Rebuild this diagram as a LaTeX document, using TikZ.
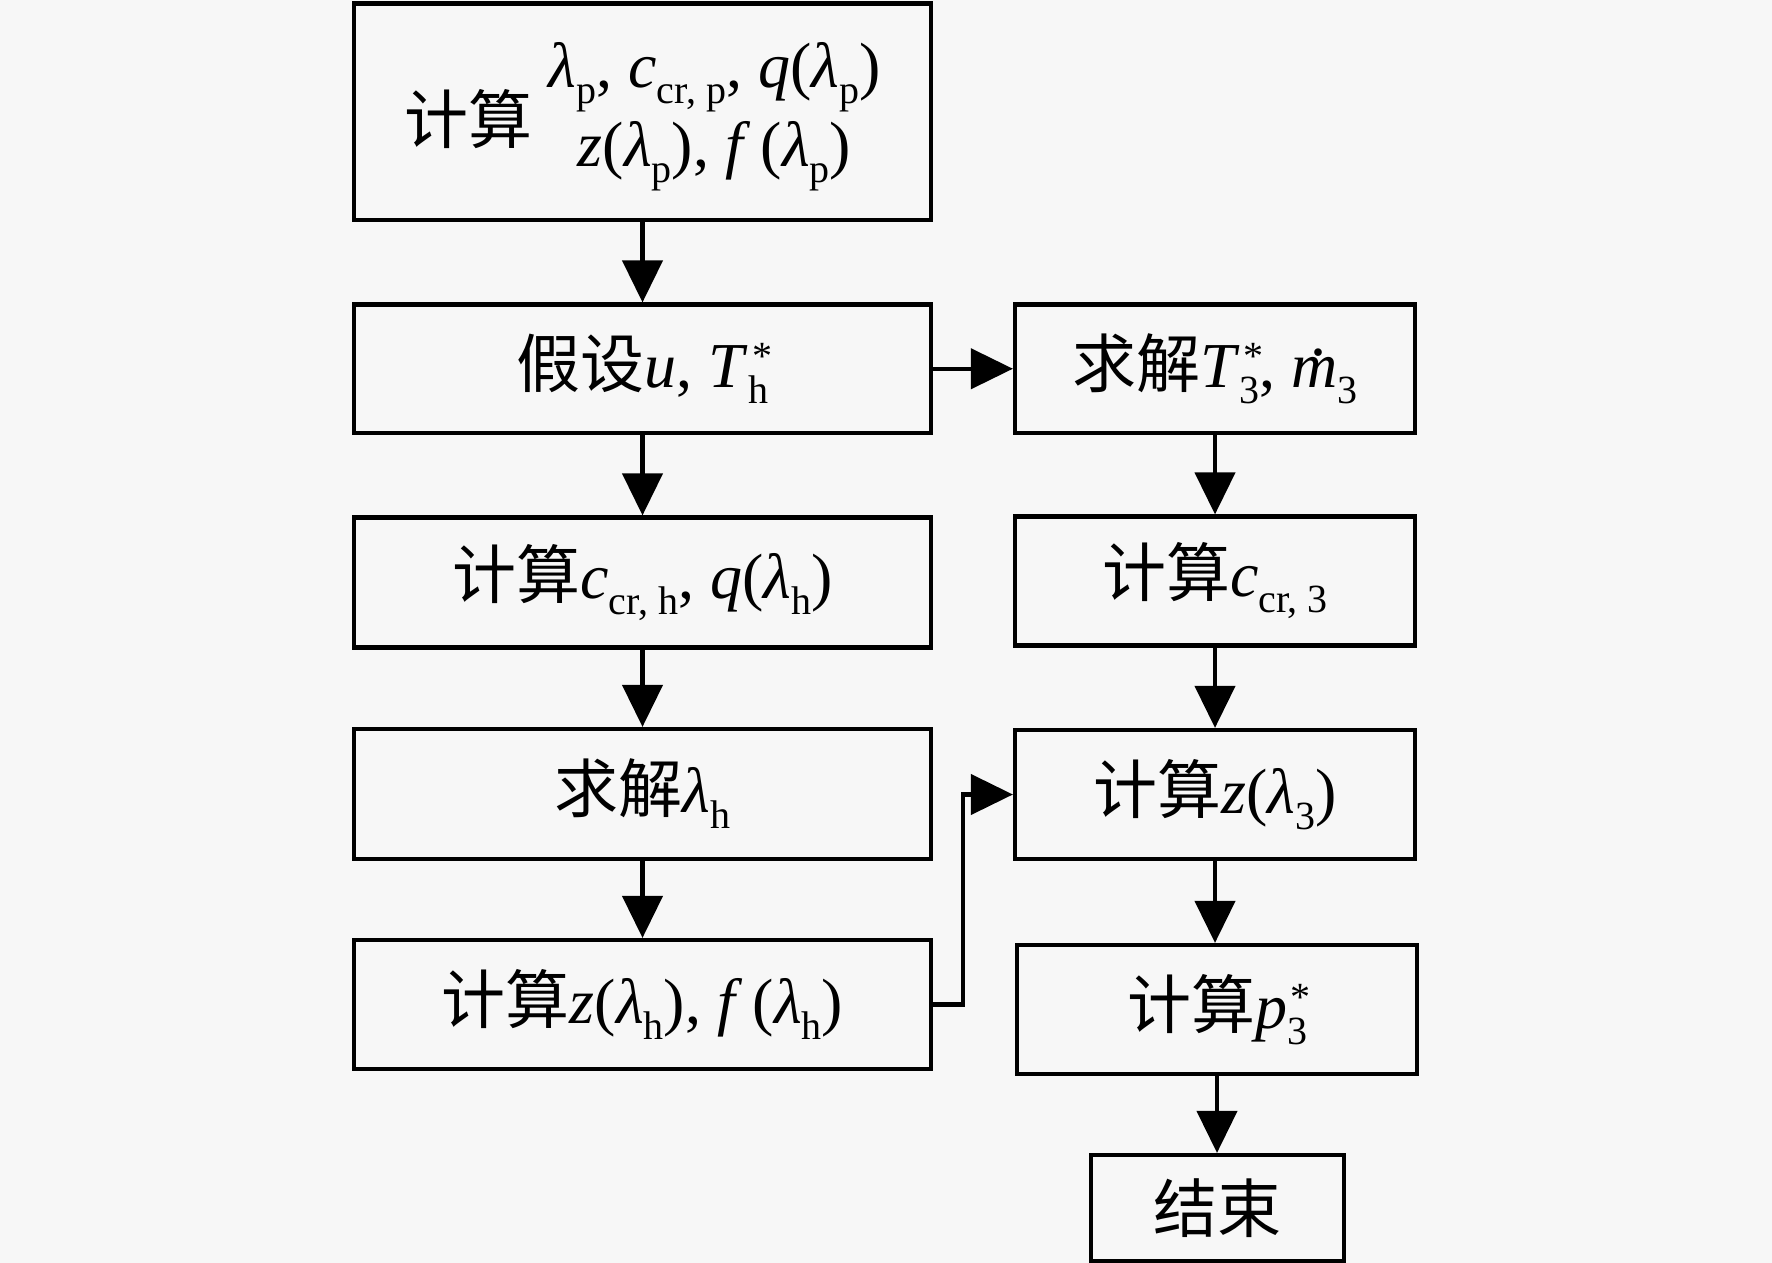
\documentclass[tikz,border=0pt]{standalone}
\usepackage{fontspec}
\setmainfont{Liberation Serif}
\newfontfamily\cjk{Noto Sans CJK SC}
\usetikzlibrary{arrows.meta,calc}
\definecolor{bgc}{HTML}{F7F7F7}
\newcommand\ssz{\fontsize{20pt}{20pt}\selectfont\upshape}
\newcommand\sbx[1]{\raisebox{-0.25em}{\ssz #1}}
\newcommand\sbsp[2]{\rlap{\kern0.06em\raisebox{0.28em}{\ssz #2}}\raisebox{-0.25em}{\ssz #1}}
\newcommand\vi[1]{\textit{#1}}
\newcommand\lam{\textit{λ}}
\newcommand\mdot{\setbox0\hbox{\itshape m}\hbox to \wd0{\hss\raisebox{0.5em}{\kern0.12em .}\hss}\kern-\wd0\box0}
\begin{document}
\begin{tikzpicture}[x=0.5pt,y=-0.5pt,
  box/.style={draw,line width=2.1pt,rectangle,inner sep=0pt,font=\fontsize{32pt}{39pt}\selectfont},
  arr/.style={line width=2.1pt,-{Triangle[length=21pt,width=20pt]}}]
\fill[bgc] (0,0) rectangle (1772,1263);
\useasboundingbox (0,0) rectangle (1772,1263);
% left column
\node[box,minimum width=288.5pt,minimum height=108.25pt] (b1) at (642.5,111.75)
  {\raisebox{-0.3em}{\cjk 计算}\hspace{8pt}\begin{tabular}{@{}c@{}}\lam\sbx{p}, \vi{c}\sbx{cr, p}, \vi{q}(\lam\sbx{p})\\ \vi{z}(\lam\sbx{p}), \vi{f}\,(\lam\sbx{p})\end{tabular}};
\node[box,minimum width=288.5pt,minimum height=64.25pt] (b2) at (642.5,368.75)
  {{\cjk 假设}\vi{u}, \vi{T}\sbsp{h}{*}};
\node[box,minimum width=288.5pt,minimum height=65pt] (b3) at (642.5,582.5)
  {{\cjk 计算}\vi{c}\sbx{cr, h}, \vi{q}(\lam\sbx{h})};
\node[box,minimum width=288.5pt,minimum height=65pt] (b4) at (642.5,794)
  {{\cjk 求解}\lam\sbx{h}};
\node[box,minimum width=288.5pt,minimum height=64.5pt] (b5) at (642.5,1004.5)
  {{\cjk 计算}\vi{z}(\lam\sbx{h}), \vi{f}\,(\lam\sbx{h})};
% right column
\node[box,minimum width=200pt,minimum height=64.25pt] (r1) at (1215,368.75)
  {{\cjk 求解}\vi{T}\sbsp{3}{*}, \mdot\sbx{3}};
\node[box,minimum width=200pt,minimum height=64.5pt] (r2) at (1215,581)
  {{\cjk 计算}\vi{c}\sbx{cr, 3}};
\node[box,minimum width=200pt,minimum height=64.5pt] (r3) at (1215,794.5)
  {{\cjk 计算}\vi{z}(\lam\sbx{3})};
\node[box,minimum width=200pt,minimum height=64.5pt] (r4) at (1217,1009.5)
  {{\cjk 计算}\vi{p}\sbsp{3}{*}};
\node[box,minimum width=126.5pt,minimum height=53pt] (e) at (1217.5,1208)
  {{\cjk 结束}};
\coordinate (elb) at (963,0);
% connectors
\draw[arr] (b1.south) -- (b2.north);
\draw[arr] (b2.south) -- (b3.north);
\draw[arr] (b3.south) -- (b4.north);
\draw[arr] (b4.south) -- (b5.north);
\draw[arr] (b2.east) -- (r1.west);
\draw[arr] (r1.south) -- (r2.north);
\draw[arr] (r2.south) -- (r2.south |- r3.north);
\draw[arr] (r3.south) -- (r3.south |- r4.north);
\draw[arr] (r4.south) -- (r4.south |- e.north);
\draw[arr] (b5.east) -- (b5.east -| elb) |- (r3.west);
\end{tikzpicture}
\end{document}
